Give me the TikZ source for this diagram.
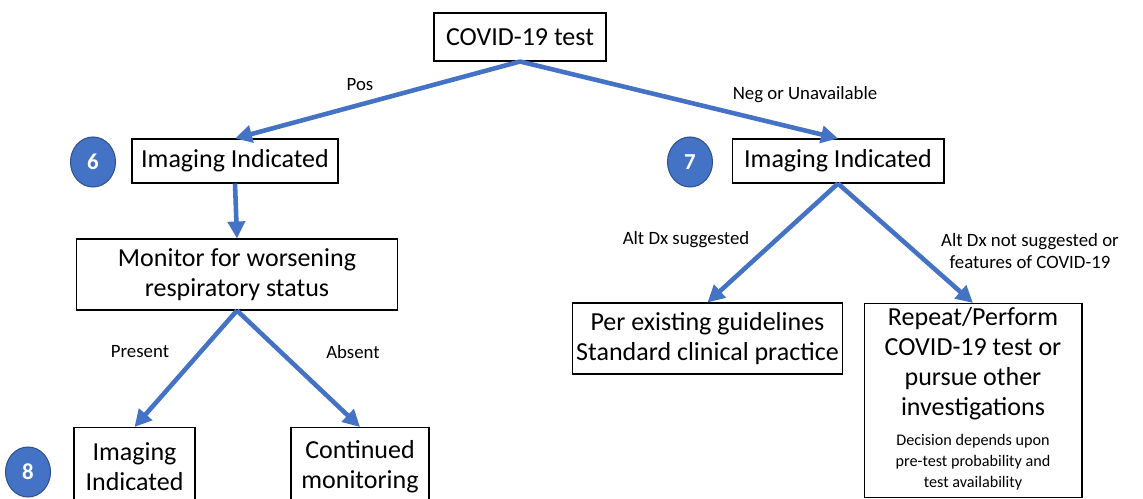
\documentclass[tikz,border=0pt]{standalone}
\usepackage{fontspec}
\setmainfont{Carlito}
\usetikzlibrary{arrows.meta,shapes.geometric}
\definecolor{flowblue}{HTML}{4472C4}
\definecolor{flowdark}{HTML}{2F528F}
\begin{document}
\begin{tikzpicture}[
      x=0.02cm, y=-0.02cm,
      box/.style={draw=black, line width=0.6pt, fill=white, align=center, inner sep=2pt,
        font=\fontsize{14.8}{17}\selectfont},
      lbl/.style={font=\fontsize{10.7}{12.5}\selectfont, align=center, inner sep=0pt},
      num/.style={ellipse, fill=flowblue, draw=flowdark, line width=0.6pt, minimum width=0.9cm,
        minimum height=1cm, inner sep=0pt, text=white, font=\fontsize{13}{13}\selectfont\bfseries},
      arr/.style={-{Triangle[length=0.34cm,width=0.34cm]}, draw=flowblue, line width=2.6pt}]
    \useasboundingbox (0,0) rectangle (1143,499);
    \clip (0,0) rectangle (1143,499);
    \node[box, minimum width=3.44cm, minimum height=0.96cm] (test) at (520,37) {COVID-19 test};
    \node[box, minimum width=4.12cm, minimum height=0.88cm] (img6) at (235,161) {Imaging Indicated};
    \node[box, minimum width=4.24cm, minimum height=0.88cm] (img7) at (838,161) {Imaging Indicated};
    \node[box, minimum width=6.44cm, minimum height=1.42cm] (mon) at (237,274.5) {Monitor for worsening\\respiratory status};
    \node[box, anchor=north, minimum width=2.42cm, minimum height=1.56cm] (img8) at (134.5,427) {Imaging\\Indicated};
    \node[box, anchor=north, minimum width=2.76cm, minimum height=1.56cm] (cont) at (360,427) {Continued\\monitoring};
    \node[box, minimum width=5.22cm, minimum height=1.42cm] (per) at (707.5,338.5) {Per existing guidelines\\Standard clinical practice};
    \node[box, anchor=north, minimum width=4.36cm, minimum height=3.88cm] (rep) at (973,303)
      {Repeat/Perform\\COVID-19 test or\\pursue other\\investigations\\
       {\fontsize{9.2}{12}\selectfont\begin{tabular}[t]{@{}c@{}}Decision depends upon\\pre-test probability and\\test availability\end{tabular}}};
    \node[num] (n6) at (93,162) {6};
    \node[num] (n7) at (690,162) {7};
    \node[num] (n8) at (28,472) {8};
    \node[lbl] (pos) at (360,85) {Pos};
    \node[lbl] (neg) at (805,95) {Neg or Unavailable};
    \node[lbl] (pres) at (140,352) {Present};
    \node[lbl] (abs) at (353,352) {Absent};
    \node[lbl] (altyes) at (686,240) {Alt Dx suggested};
    \node[lbl] (altno) at (1030,251) {Alt Dx not suggested or\\features of COVID-19};
    \draw[arr] (test.south) -- (img6.north);
    \draw[arr] (test.south) -- (img7.north);
    \draw[arr] (img6.south) -- (mon.north);
    \draw[arr] (mon.south) -- (img8.north);
    \draw[arr] (mon.south) -- (cont.north);
    \draw[arr] (img7.south) -- (per.north);
    \draw[arr] (img7.south) -- (rep.north);
\end{tikzpicture}
\end{document}
